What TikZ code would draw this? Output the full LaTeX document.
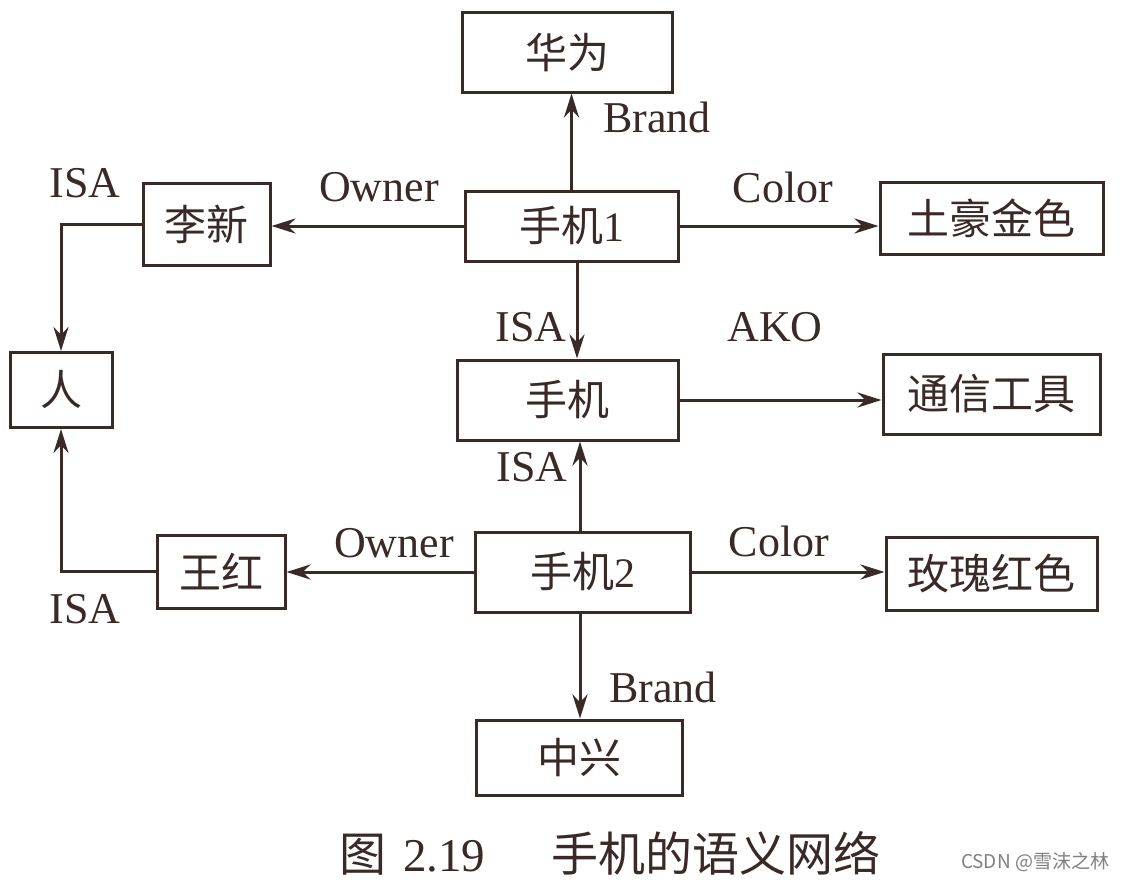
\documentclass[tikz,border=0pt]{standalone}
\usepackage{fontspec}
\setmainfont{Liberation Serif}
\newfontfamily\cjk{Noto Sans CJK SC}
\usetikzlibrary{arrows.meta}
\definecolor{ink}{HTML}{3A2A27}
\tikzset{
  box/.style={draw=ink, line width=3pt, inner sep=0pt, text=ink, font=\fontsize{42}{46}\selectfont},
  lbl/.style={inner sep=0pt, text=ink, font=\fontsize{44}{48}\selectfont},
  arr/.style={draw=ink, line width=3pt, -{Stealth[length=24pt,width=15pt]}},
}
\begin{document}
\begin{tikzpicture}[x=1pt,y=-1pt]
\useasboundingbox[fill=white] (0,0) rectangle (1123,884);
% boxes
\node[box, minimum width=210pt, minimum height=80pt] (hw) at (567,52) {\cjk 华为};
\node[box, minimum width=213pt, minimum height=70pt] (p1) at (571.5,226) {{\cjk 手机}1};
\node[box, minimum width=223pt, minimum height=72pt] (th) at (991.5,218) {\cjk 土豪金色};
\node[box, minimum width=127pt, minimum height=82pt] (lx) at (206.5,224) {\cjk 李新};
\node[box, minimum width=102pt, minimum height=75pt] (ren) at (61,390) {\cjk 人};
\node[box, minimum width=221pt, minimum height=80pt] (sj) at (567.5,400) {\cjk 手机};
\node[box, minimum width=217pt, minimum height=80pt] (tx) at (991.5,394) {\cjk 通信工具};
\node[box, minimum width=128pt, minimum height=73pt] (wh) at (221,571.5) {\cjk 王红};
\node[box, minimum width=215pt, minimum height=80pt] (p2) at (582.5,572) {{\cjk 手机}2};
\node[box, minimum width=211pt, minimum height=73pt] (mg) at (991.5,573.5) {\cjk 玫瑰红色};
\node[box, minimum width=206pt, minimum height=75pt] (zx) at (579,757.5) {\cjk 中兴};
% connectors
\draw[arr] (p1.north) -- (p1.north |- hw.south);
\draw[arr] (p1.west) -- (p1.west -| lx.east);
\draw[arr] (p1.east) -- (p1.east -| th.west);
\draw[arr] ([xshift=5.5pt]p1.south) -- ([xshift=5.5pt]p1.south |- sj.north);
\draw[arr] (lx.west) -| (ren.north);
\draw[arr] (sj.east) -- (sj.east -| tx.west);
\draw[arr] ([xshift=-2.5pt]p2.north) -- ([xshift=-2.5pt]p2.north |- sj.south);
\draw[arr] (p2.west) -- (p2.west -| wh.east);
\draw[arr] (p2.east) -- (p2.east -| mg.west);
\draw[arr] (wh.west) -| (ren.south);
\draw[arr] ([xshift=-2.5pt]p2.south) -- ([xshift=-2.5pt]p2.south |- zx.north);
% labels
\node[lbl] (l1) at (657,117) {Brand};
\node[lbl] (l2) at (85,183) {ISA};
\node[lbl] (l3) at (379,187) {Owner};
\node[lbl] (l4) at (783,187) {Color};
\node[lbl] (l5) at (531,327) {ISA};
\node[lbl] (l6) at (775,327) {AKO};
\node[lbl] (l7) at (532,467) {ISA};
\node[lbl] (l8) at (394,543) {Owner};
\node[lbl] (l9) at (779,541) {Color};
\node[lbl] (l10) at (85,609) {ISA};
\node[lbl] (l11) at (663,687) {Brand};
% caption
\node[inner sep=0pt, text=ink, font=\fontsize{47}{51}\selectfont] (cap) at (610,853) {{\cjk 图}\hspace{0.35em}2.19\hspace{1.4em}{\cjk 手机的语义网络}};
\node[inner sep=0pt, text=gray, font=\cjk\fontsize{19}{22}\selectfont] (wm) at (1035,862) {CSDN @雪沫之林};
\end{tikzpicture}
\end{document}
